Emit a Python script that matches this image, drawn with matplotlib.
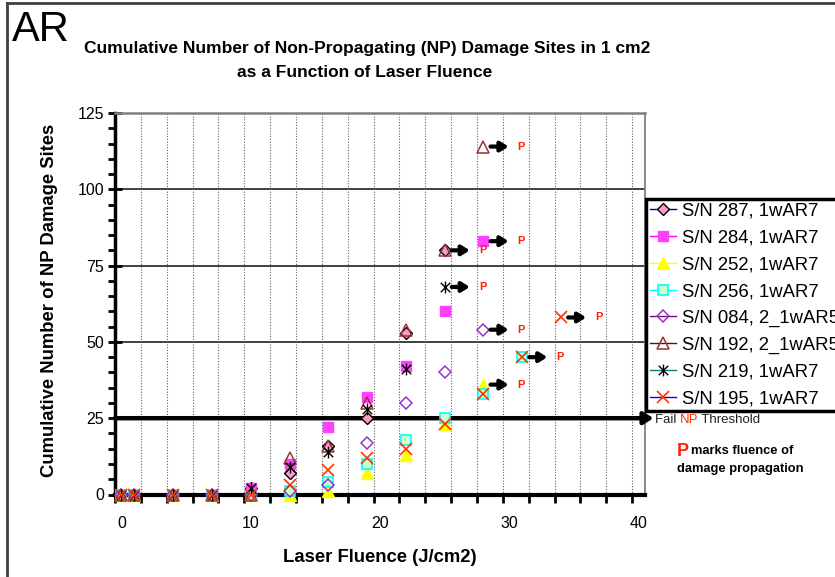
import numpy as np
import matplotlib.pyplot as plt
from matplotlib.lines import Line2D
from matplotlib.path import Path
from matplotlib.ticker import MultipleLocator, FixedLocator

plt.rcParams['font.family'] = ['Liberation Sans', 'DejaVu Sans']

# laser fluence steps (J/cm2)
fluence = [0, 1, 4, 7, 10, 13, 16, 19, 22, 25, 28, 31, 34]

# cumulative NP damage sites per part, up to the fluence where it propagated
sn287 = [0, 0, 0, 0, 2, 7, 16, 25, 53, 80]
sn284 = [0, 0, 0, 0, 2, 10, 22, 32, 42, 60, 83]
sn252 = [0, 0, 0, 0, 0, 0, 1, 7, 13, 23, 36]
sn256 = [0, 0, 0, 0, 0, 1, 4, 10, 18, 25, 33, 45]
sn084 = [0, 0, 0, 0, 0, 1, 3, 17, 30, 40, 54]
sn192 = [0, 0, 0, 0, 0, 12, 16, 30, 54, 80, 114]
sn219 = [0, 0, 0, 0, 2, 9, 14, 28, 41, 68]
sn195 = [0, 0, 0, 0, 0, 3, 8, 12, 15, 23, 33, 45, 58]

names = ['S/N 287, 1wAR7', 'S/N 284, 1wAR7', 'S/N 252, 1wAR7', 'S/N 256, 1wAR7',
         'S/N 084, 2_1wAR5', 'S/N 192, 2_1wAR5', 'S/N 219, 1wAR7', 'S/N 195, 1wAR7']
threshold = 25

# excel style star: an X with a vertical bar
star = Path([(-1, -1), (1, 1), (-1, 1), (1, -1), (0, -1.25), (0, 1.25)],
            [Path.MOVETO, Path.LINETO, Path.MOVETO, Path.LINETO, Path.MOVETO, Path.LINETO])

styles = [
    dict(marker='D', mfc='#FF99CC', mec='black', ms=6.5, mew=1.0, lc='#000080'),
    dict(marker='s', mfc='#FF40FF', mec='#FF40FF', ms=7.5, mew=1.0, lc='#FF00FF'),
    dict(marker='^', mfc='#FFFF00', mec='#FFFF00', ms=8, mew=1.0, lc='#FFFF00'),
    dict(marker='s', mfc='#CCFFCC', mec='#00FFFF', ms=7.5, mew=1.2, lc='#00FFFF'),
    dict(marker='D', mfc='none', mec='#9933CC', ms=6.5, mew=1.1, lc='#800080'),
    dict(marker='^', mfc='none', mec='#993333', ms=8.5, mew=1.1, lc='#800000'),
    dict(marker=star, mfc='none', mec='black', ms=8.5, mew=1.0, lc='#008080'),
    dict(marker='x', mfc='none', mec='#FF3300', ms=8.5, mew=1.2, lc='#0000FF'),
]
series = [sn287, sn284, sn252, sn256, sn084, sn192, sn219, sn195]

fig = plt.figure(figsize=(8.35, 5.77), dpi=100)
ax = fig.add_axes([115 / 835, 1 - 494.5 / 577, 530 / 835, 381.5 / 577])

for vals, st in zip(series, styles):
    xs = fluence[:len(vals)]
    ax.plot(xs, vals, linestyle='none', marker=st['marker'], mfc=st['mfc'],
            mec=st['mec'], ms=st['ms'], mew=st['mew'], clip_on=False, zorder=4)

# arrows + "P" at the last point of each part (fluence of propagation)
for vals in series:
    x0 = fluence[len(vals) - 1]
    y0 = vals[-1]
    ax.annotate('', xy=(x0 + 1.95, y0), xytext=(x0 + 0.55, y0),
                arrowprops=dict(arrowstyle='-|>,head_length=0.45,head_width=0.28',
                                lw=3, color='black', shrinkA=0, shrinkB=0,
                                mutation_scale=10), zorder=5)
    ax.text(x0 + 2.65, y0, 'P', color='#FF2200', fontsize=8, fontweight='bold',
            ha='left', va='center', zorder=5)

# fail threshold line running out past the plot
ax.annotate('', xy=(41.15, threshold), xytext=(-0.5, threshold),
            arrowprops=dict(arrowstyle='-|>,head_length=0.5,head_width=0.32',
                            lw=3.2, color='black', shrinkA=0, shrinkB=0,
                            mutation_scale=11),
            annotation_clip=False, zorder=3)

ax.set_xlim(-0.5, 40.5)
ax.set_ylim(0, 125)

# tick labels on the decades, tick marks / grid on the odd half steps
ax.xaxis.set_major_locator(FixedLocator(np.arange(-0.5, 40, 2)))
ax.set_xticklabels([])
ax.tick_params(axis='x', which='major', direction='out', length=6, width=2)
for v in [0, 10, 20, 30, 40]:
    ax.text(v, -0.075, str(v), transform=ax.get_xaxis_transform(),
            ha='center', va='center', fontsize=11.5)
ax.grid(axis='x', which='major', color='#606060', linestyle=(0, (1, 1.5)), lw=0.8)

ax.yaxis.set_major_locator(MultipleLocator(25))
ax.yaxis.set_minor_locator(MultipleLocator(5))
ax.tick_params(axis='y', which='major', direction='inout', length=10, width=2,
               labelsize=11.5, pad=3)
ax.tick_params(axis='y', which='minor', direction='out', length=5, width=2)
for v in [50, 75, 100]:
    ax.axhline(v, color='#404040', lw=1.4, zorder=1)

ax.spines['left'].set_linewidth(2.5)
ax.spines['bottom'].set_linewidth(3)
ax.spines['top'].set_color('#808080')
ax.spines['top'].set_linewidth(1.8)
ax.spines['right'].set_color('#808080')
ax.spines['right'].set_linewidth(1.3)

handles = [Line2D([], [], color=st['lc'], lw=1, marker=st['marker'], mfc=st['mfc'],
                  mec=st['mec'], ms=st['ms'], mew=st['mew']) for st in styles]
leg = ax.legend(handles, names, loc='upper left',
                bbox_to_anchor=(646 / 835, 1 - 199 / 577),
                bbox_transform=fig.transFigure, fancybox=False, framealpha=1,
                edgecolor='black', borderaxespad=0, fontsize=13.3,
                handlelength=1.45, handletextpad=0.3, labelspacing=0.53,
                borderpad=0.2)
leg.get_frame().set_linewidth(2.5)

# threshold label (red NP) and propagation note
t1 = fig.text(655 / 835, 1 - 420 / 577, 'Fail ', fontsize=9.5, color='#202020',
              ha='left', va='center')
t2 = fig.text(0, 0, 'NP', fontsize=9.5, color='#FF3300', ha='left', va='center')
t3 = fig.text(0, 0, ' Threshold', fontsize=9.5, color='#202020', ha='left', va='center')
fig.canvas.draw()
r = fig.canvas.get_renderer()
inv = fig.transFigure.inverted()
x_end = inv.transform((t1.get_window_extent(r).x1, 0))[0]
t2.set_position((x_end, 1 - 420 / 577))
x_end = inv.transform((t2.get_window_extent(r).x1, 0))[0]
t3.set_position((x_end, 1 - 420 / 577))

fig.text(677 / 835, 1 - 451 / 577, 'P', fontsize=13, color='#FF2200',
         fontweight='bold', ha='left', va='center')
fig.text(691 / 835, 1 - 451 / 577, 'marks fluence of', fontsize=9.3,
         fontweight='bold', ha='left', va='center')
fig.text(677 / 835, 1 - 469 / 577, 'damage propagation', fontsize=9.3,
         fontweight='bold', ha='left', va='center')

# titles and axis labels
fig.text(12 / 835, 1 - 30 / 577, 'AR', fontsize=30, ha='left', va='center')
fig.text(367 / 835, 1 - 48 / 577,
         'Cumulative Number of Non-Propagating (NP) Damage Sites in 1 cm2',
         fontsize=12.5, fontweight='bold', ha='center', va='center')
fig.text(365 / 835, 1 - 72 / 577, 'as a Function of Laser Fluence',
         fontsize=12.5, fontweight='bold', ha='center', va='center')
fig.text(380 / 835, 1 - 557 / 577, 'Laser Fluence (J/cm2)', fontsize=13.3,
         fontweight='bold', ha='center', va='center')
fig.text(50 / 835, 1 - 300 / 577, 'Cumulative Number of NP Damage Sites',
         fontsize=13.3, fontweight='bold', rotation=90, ha='center', va='center')

# outer chart border (left and top edges)
fig.add_artist(Line2D([6.5 / 835, 6.5 / 835], [0, 1 - 2.5 / 577],
                      transform=fig.transFigure, color='#404040', lw=2))
fig.add_artist(Line2D([6.5 / 835, 1], [1 - 2.5 / 577, 1 - 2.5 / 577],
                      transform=fig.transFigure, color='#404040', lw=2))

fig.savefig('out.png', dpi=100)
